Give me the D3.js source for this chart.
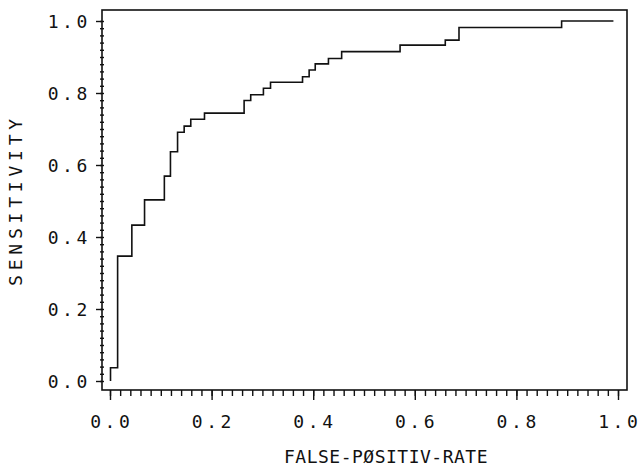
<!DOCTYPE html>
<html lang="en">
<head>
    <meta charset="UTF-8">
    <title>ROC curve</title>
    <script src="https://d3js.org/d3.v7.min.js"></script>
    <style>
        body {
            margin: 0;
            background-color: #fff;
        }
        svg text {
            font-family: "DejaVu Sans Mono", monospace;
            font-size: 18px;
            fill: #111;
        }
        .axis path {
            display: none;
        }
        .axis line {
            stroke: #111;
            stroke-width: 1.4;
        }
    </style>
</head>
<body>
    <div id="chart"></div>

    <script>
        // ROC points (top of each vertical jump)
        const fpr  = [0.001, 0.001, 0.015, 0.043, 0.068, 0.107, 0.119, 0.133, 0.146, 0.159, 0.186,
                      0.264, 0.277, 0.302, 0.316, 0.379, 0.392, 0.404, 0.430, 0.456, 0.571, 0.660,
                      0.687, 0.889, 0.991];
        const sens = [0.000, 0.037, 0.347, 0.433, 0.503, 0.569, 0.637, 0.691, 0.708, 0.727, 0.744,
                      0.779, 0.795, 0.813, 0.830, 0.845, 0.864, 0.881, 0.896, 0.915, 0.933, 0.947,
                      0.982, 1.000, 1.000];

        const tickValues = [0, 0.2, 0.4, 0.6, 0.8, 1.0];
        const tickLabels = ["0.0", "0.2", "0.4", "0.6", "0.8", "1.0"];
        const xTitle = "FALSE-PØSITIV-RATE";
        const yTitle = "SENSITIVITY";

        const width = 640, height = 475;
        const frame = { left: 102, top: 10, right: 627, bottom: 390 };

        const svg = d3.select('#chart').append('svg')
            .attr('width', width)
            .attr('height', height);

        svg.append('rect')
            .attr('width', width)
            .attr('height', height)
            .attr('fill', '#fff');

        const x = d3.scaleLinear().domain([0, 1]).range([110, 618]);
        const y = d3.scaleLinear().domain([0, 1]).range([381, 21]);

        const minorTicks = d3.range(0, 1.0001, 0.02);

        // y axis ticks
        svg.append('g')
            .attr('class', 'axis')
            .attr('transform', `translate(${frame.left},0)`)
            .call(d3.axisLeft(y).tickValues(tickValues).tickSize(6).tickFormat(''));
        svg.append('g')
            .attr('class', 'axis')
            .attr('transform', `translate(${frame.left + 2},0)`)
            .call(d3.axisLeft(y).tickValues(minorTicks).tickSize(4).tickFormat(''));

        // x axis ticks
        svg.append('g')
            .attr('class', 'axis')
            .attr('transform', `translate(0,${frame.bottom})`)
            .call(d3.axisBottom(x).tickValues(tickValues).tickSize(10).tickFormat(''));
        svg.append('g')
            .attr('class', 'axis')
            .attr('transform', `translate(0,${frame.bottom})`)
            .call(d3.axisBottom(x).tickValues(minorTicks).tickSize(6).tickFormat(''));

        // frame
        svg.append('rect')
            .attr('x', frame.left)
            .attr('y', frame.top)
            .attr('width', frame.right - frame.left)
            .attr('height', frame.bottom - frame.top)
            .attr('fill', 'none')
            .attr('stroke', '#111')
            .attr('stroke-width', 1.6);

        // tick labels
        svg.selectAll('.ylab')
            .data(tickValues)
            .enter()
            .append('text')
            .attr('class', 'ylab')
            .attr('x', 91)
            .attr('y', d => y(d) + 6.5)
            .attr('text-anchor', 'end')
            .style('letter-spacing', '3.6px')
            .text((d, i) => tickLabels[i]);

        svg.selectAll('.xlab')
            .data(tickValues)
            .enter()
            .append('text')
            .attr('class', 'xlab')
            .attr('x', d => x(d) + 1.8)
            .attr('y', 428)
            .attr('text-anchor', 'middle')
            .style('letter-spacing', '3.6px')
            .text((d, i) => tickLabels[i]);

        // axis titles
        svg.append('text')
            .attr('x', 386)
            .attr('y', 463)
            .attr('text-anchor', 'middle')
            .style('letter-spacing', '0.5px')
            .text(xTitle);

        svg.append('text')
            .attr('transform', 'translate(22,200) rotate(-90)')
            .attr('text-anchor', 'middle')
            .style('letter-spacing', '4.8px')
            .text(yTitle);

        // ROC step curve
        const points = fpr.map((f, i) => [f, sens[i]]);
        const line = d3.line()
            .x(d => x(d[0]))
            .y(d => y(d[1]))
            .curve(d3.curveStepAfter);

        svg.append('path')
            .datum(points)
            .attr('d', line)
            .attr('fill', 'none')
            .attr('stroke', '#111')
            .attr('stroke-width', 1.6);
    </script>
</body>
</html>
